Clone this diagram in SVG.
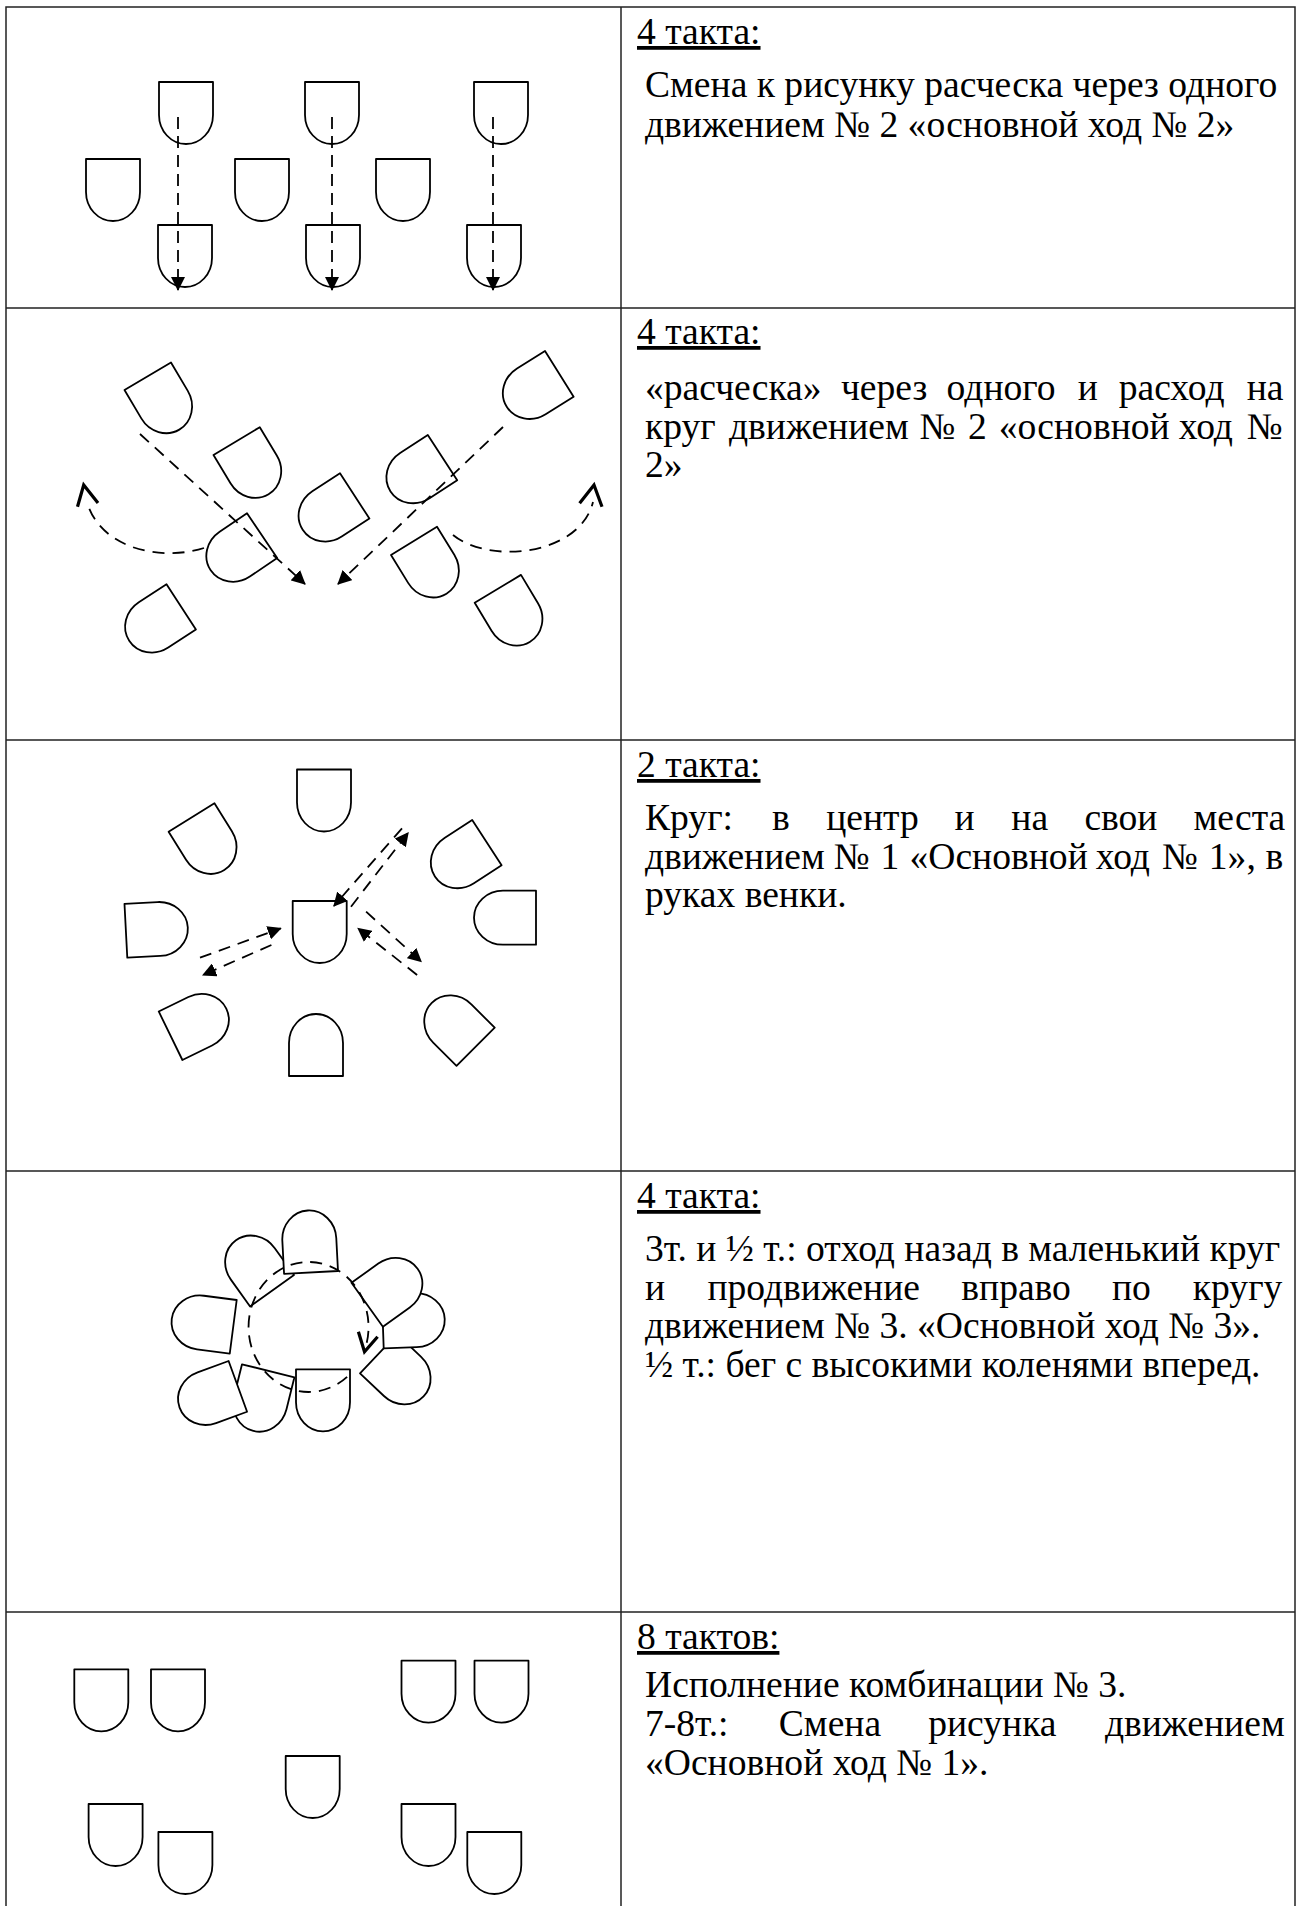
<svg xmlns="http://www.w3.org/2000/svg" xmlns:xlink="http://www.w3.org/1999/xlink" width="1304" height="1906" viewBox="0 0 1304 1906">
  <style>
    .grid { fill: none; stroke: #222; stroke-width: 1.5; }
    .fig { fill: #fff; stroke: #000; stroke-width: 1.8; stroke-linejoin: round; }
    .dash { fill: none; stroke: #000; stroke-width: 1.8; stroke-dasharray: 12 8; }
    .vdash { fill: none; stroke: #000; stroke-width: 1.8; stroke-dasharray: 12 7; }
    .chev { fill: none; stroke: #000; stroke-width: 3.2; stroke-linejoin: miter; stroke-linecap: butt; }
    text { font-family: "Liberation Serif", "Times New Roman", serif; font-size: 37.6px; fill: #000; }
    .hd { text-decoration: underline; }
  </style>
  <defs>
    <!-- dancer: flat front edge, body rounded at the back -->
    <path id="dancer" d="M0,0 H54 V33 A27 29 0 0 1 0,33 Z"/>
    <marker id="head" viewBox="0 0 14 14" refX="13" refY="7" markerWidth="14" markerHeight="14" markerUnits="userSpaceOnUse" orient="auto">
      <path d="M0,0 L14,7 L0,14 Z" fill="#000"/>
    </marker>
  </defs>

  <rect width="1304" height="1906" fill="#fff"/>

  <!-- table grid -->
  <g id="table" class="grid">
    <path d="M6,1906 V7 H1295 V1906"/>
    <path d="M621,7 V1906"/>
    <path d="M6,308 H1295 M6,740 H1295 M6,1171 H1295 M6,1612 H1295"/>
  </g>

  <!-- figure 1: comb, every second dancer steps back -->
  <g id="fig1">
    <g id="f1-top">
      <use href="#dancer" class="fig" transform="translate(159,82)"/>
      <use href="#dancer" class="fig" transform="translate(305,82)"/>
      <use href="#dancer" class="fig" transform="translate(474,82)"/>
    </g>
    <g id="f1-mid">
      <use href="#dancer" class="fig" transform="translate(86,159)"/>
      <use href="#dancer" class="fig" transform="translate(235,159)"/>
      <use href="#dancer" class="fig" transform="translate(376,159)"/>
    </g>
    <g id="f1-bottom">
      <use href="#dancer" class="fig" transform="translate(158,225)"/>
      <use href="#dancer" class="fig" transform="translate(306,225)"/>
      <use href="#dancer" class="fig" transform="translate(467,225)"/>
    </g>
    <g id="f1-moves">
      <path class="vdash" d="M178,117 V290" marker-end="url(#head)"/>
      <path class="vdash" d="M332,117 V290" marker-end="url(#head)"/>
      <path class="vdash" d="M493,117 V290" marker-end="url(#head)"/>
    </g>
  </g>

  <!-- figure 2: comb and split into the circle -->
  <g id="fig2">
    <g id="f2-dancers">
      <use href="#dancer" class="fig" transform="translate(124.5,390) rotate(-30.6)"/>
      <use href="#dancer" class="fig" transform="translate(213.5,455) rotate(-31)"/>
      <use href="#dancer" class="fig" transform="translate(247,513.3) rotate(56)"/>
      <use href="#dancer" class="fig" transform="translate(166.5,584.3) rotate(57)"/>
      <use href="#dancer" class="fig" transform="translate(340,473.3) rotate(57)"/>
      <use href="#dancer" class="fig" transform="translate(427.8,435) rotate(57)"/>
      <use href="#dancer" class="fig" transform="translate(545,351) rotate(58)"/>
      <use href="#dancer" class="fig" transform="translate(391,555) rotate(-31.6)"/>
      <use href="#dancer" class="fig" transform="translate(474.7,602.7) rotate(-31)"/>
    </g>
    <g id="f2-moves">
      <path class="dash" d="M140,434 L305,584" marker-end="url(#head)"/>
      <path class="dash" d="M503,427 L338,584" marker-end="url(#head)"/>
      <path class="dash" d="M204,548 C160,562 100,548 87,502"/>
      <polyline class="chev" points="77.5,506.7 83.7,485 98,503"/>
      <path class="dash" d="M453,535 C490,565 580,555 593,502"/>
      <polyline class="chev" points="579.6,503.3 594,485 602,506.7"/>
    </g>
  </g>

  <!-- figure 3: circle, to the centre and back -->
  <g id="fig3">
    <g id="f3-dancers">
      <use href="#dancer" class="fig" transform="translate(297,769.5)"/>
      <use href="#dancer" class="fig" transform="translate(168.6,831.7) rotate(-31.9)"/>
      <use href="#dancer" class="fig" transform="translate(472.2,820) rotate(57)"/>
      <use href="#dancer" class="fig" transform="translate(127.3,957.7) rotate(-93)"/>
      <use href="#dancer" class="fig" transform="translate(292.7,901)"/>
      <use href="#dancer" class="fig" transform="translate(536,890.7) rotate(90)"/>
      <use href="#dancer" class="fig" transform="translate(182.4,1060) rotate(-116)"/>
      <use href="#dancer" class="fig" transform="translate(343,1076) rotate(180)"/>
      <use href="#dancer" class="fig" transform="translate(494.7,1027.7) rotate(135)"/>
    </g>
    <g id="f3-moves">
      <path class="dash" d="M351,906.7 L408.2,832.7" marker-end="url(#head)"/>
      <path class="dash" d="M402,828.3 L333.9,906" marker-end="url(#head)"/>
      <path class="dash" d="M200,957.7 L280.8,928.3" marker-end="url(#head)"/>
      <path class="dash" d="M271.4,945 L202.9,975" marker-end="url(#head)"/>
      <path class="dash" d="M366.1,911.7 L421.2,961.7" marker-end="url(#head)"/>
      <path class="dash" d="M417.1,975 L358,928.3" marker-end="url(#head)"/>
    </g>
  </g>

  <!-- figure 4: small circle moving to the right -->
  <g id="fig4">
    <g id="f4-dancers">
      <use href="#dancer" class="fig" transform="translate(236.7,1300) rotate(97.4)"/>
      <use href="#dancer" class="fig" transform="translate(242,1364.3) rotate(13.9)"/>
      <use href="#dancer" class="fig" transform="translate(228.6,1361) rotate(70)"/>
      <use href="#dancer" class="fig" transform="translate(294,1275) rotate(144.4)"/>
      <use href="#dancer" class="fig" transform="translate(338,1271) rotate(177)"/>
      <use href="#dancer" class="fig" transform="translate(296,1369.3)"/>
      <use href="#dancer" class="fig" transform="translate(360,1373.3) rotate(-46.5)"/>
      <use href="#dancer" class="fig" transform="translate(383.7,1348.3) rotate(-92)"/>
      <use href="#dancer" class="fig" transform="translate(382.9,1326.7) rotate(-125.6)"/>
    </g>
    <g id="f4-moves">
      <path class="dash" d="M347.1,1376.8 A60,65 0 1 1 365.6,1347.1"/>
      <polyline class="chev" points="358.4,1331.7 364.5,1351.7 377.6,1336.7"/>
    </g>
  </g>

  <!-- figure 5: combination no. 3 -->
  <g id="fig5">
    <use href="#dancer" class="fig" transform="translate(74.3,1669.3)"/>
    <use href="#dancer" class="fig" transform="translate(151,1669.3)"/>
    <use href="#dancer" class="fig" transform="translate(401.5,1660.7)"/>
    <use href="#dancer" class="fig" transform="translate(474.5,1660.7)"/>
    <use href="#dancer" class="fig" transform="translate(285.7,1756)"/>
    <use href="#dancer" class="fig" transform="translate(88.6,1804)"/>
    <use href="#dancer" class="fig" transform="translate(158.4,1832)"/>
    <use href="#dancer" class="fig" transform="translate(401.5,1804)"/>
    <use href="#dancer" class="fig" transform="translate(467.3,1832)"/>
  </g>

  <!-- descriptions -->
  <g id="desc1">
    <text class="hd" x="637" y="44">4 такта:</text>
    <text x="645" y="97">Смена к рисунку расческа через одного</text>
    <text x="645" y="137">движением № 2 «основной ход № 2»</text>
  </g>
  <g id="desc2">
    <text class="hd" x="637" y="344">4 такта:</text>
    <text y="400"><tspan x="645">«расческа»</tspan><tspan x="840.9">через</tspan><tspan x="946.6">одного</tspan><tspan x="1077.8">и</tspan><tspan x="1118.7">расход</tspan><tspan x="1246.7">на</tspan></text>
    <text y="438.5"><tspan x="645">круг</tspan><tspan x="729">движением</tspan><tspan x="919.5">№</tspan><tspan x="968">2</tspan><tspan x="998.8">«основной</tspan><tspan x="1178.8">ход</tspan><tspan x="1246.8">№</tspan></text>
    <text x="645" y="477">2»</text>
  </g>
  <g id="desc3">
    <text class="hd" x="637" y="777">2 такта:</text>
    <text y="830"><tspan x="645">Круг:</tspan><tspan x="772">в</tspan><tspan x="826.2">центр</tspan><tspan x="954.5">и</tspan><tspan x="1011.3">на</tspan><tspan x="1084.4">свои</tspan><tspan x="1193.6">места</tspan></text>
    <text y="868.5"><tspan x="645">движением</tspan><tspan x="833.7">№</tspan><tspan x="880.4">1</tspan><tspan x="909.5">«Основной</tspan><tspan x="1095.8">ход</tspan><tspan x="1162.1">№</tspan><tspan x="1208.8">1»,</tspan><tspan x="1265.6">в</tspan></text>
    <text x="645" y="907">руках венки.</text>
  </g>
  <g id="desc4">
    <text class="hd" x="637" y="1208">4 такта:</text>
    <text x="645" y="1261">3т. и ½ т.: отход назад в маленький круг</text>
    <text y="1299.5"><tspan x="645">и</tspan><tspan x="707.4">продвижение</tspan><tspan x="961.3">вправо</tspan><tspan x="1112">по</tspan><tspan x="1192.8">кругу</tspan></text>
    <text x="645" y="1338">движением № 3. «Основной ход № 3».</text>
    <text x="645" y="1376.5">½ т.: бег с высокими коленями вперед.</text>
  </g>
  <g id="desc5">
    <text class="hd" x="637" y="1649">8 тактов:</text>
    <text x="645" y="1697">Исполнение комбинации № 3.</text>
    <text y="1736"><tspan x="645">7-8т.:</tspan><tspan x="778.8">Смена</tspan><tspan x="928.2">рисунка</tspan><tspan x="1104.9">движением</tspan></text>
    <text x="645" y="1775">«Основной ход № 1».</text>
  </g>
</svg>
